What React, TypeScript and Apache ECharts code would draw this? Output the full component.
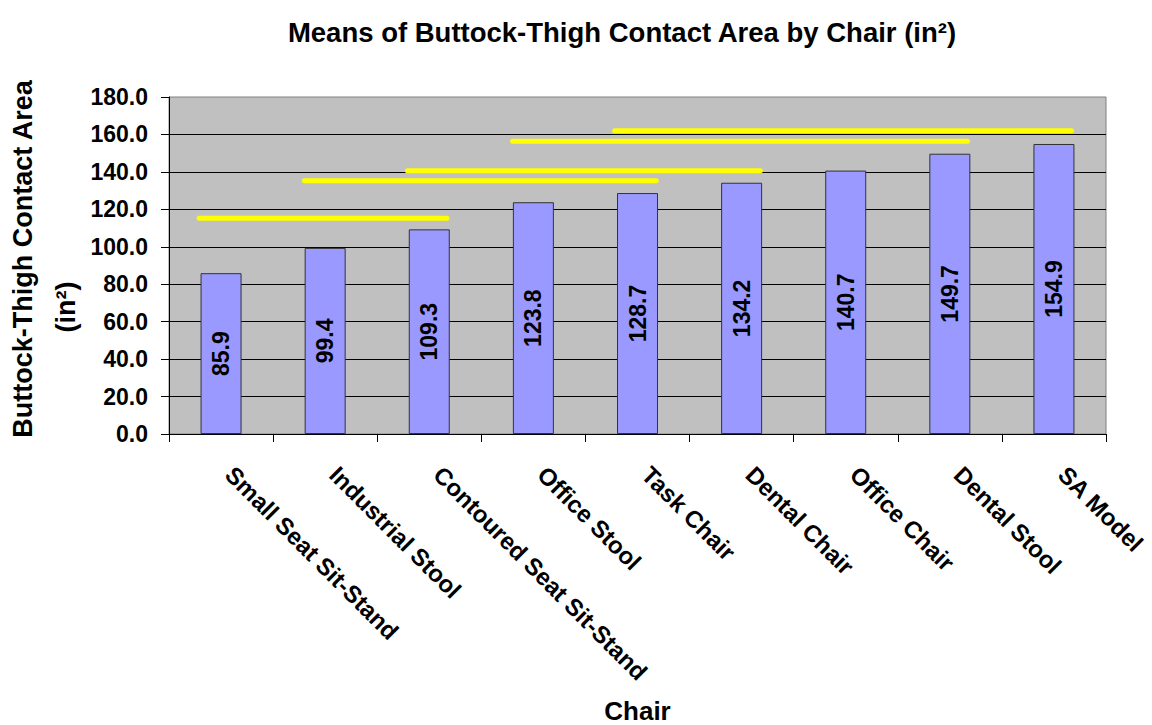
import React, { useEffect, useRef } from "react";
import * as echarts from "echarts";

const categories = [
  "Small Seat Sit-Stand",
  "Industrial Stool",
  "Contoured Seat Sit-Stand",
  "Office Stool",
  "Task Chair",
  "Dental Chair",
  "Office Chair",
  "Dental Stool",
  "SA Model",
];
const means = [85.9, 99.4, 109.3, 123.8, 128.7, 134.2, 140.7, 149.7, 154.9];

// Grouping lines (category-index positions, value level)
const groupStart = [-0.21, 0.8, 1.79, 2.8, 3.78];
const groupEnd = [2.17, 4.18, 5.18, 7.17, 8.17];
const groupLevel = [115.2, 135.3, 140.6, 156.3, 162.0];

const FONT = '"Liberation Sans", Arial, Helvetica, sans-serif';

export default function App() {
  const ref = useRef<HTMLDivElement>(null);

  useEffect(() => {
    if (!ref.current) return;
    const chart = echarts.init(ref.current, undefined, { renderer: "svg" });

    const groupSeries = groupStart.map((s, i) => ({
      type: "line",
      xAxisIndex: 1,
      yAxisIndex: 0,
      symbol: "none",
      silent: true,
      z: 5,
      lineStyle: { color: "#FFFF00", width: 5, cap: "round" },
      data: [
        [s, groupLevel[i]],
        [groupEnd[i], groupLevel[i]],
      ],
    }));

    chart.setOption({
      animation: false,
      backgroundColor: "#FFFFFF",
      textStyle: { fontFamily: FONT },
      title: {
        text: "Means of Buttock-Thigh Contact Area by Chair (in²)",
        left: 617,
        top: 13,
        textAlign: "center",
        textStyle: { fontFamily: FONT, fontSize: 27.5, fontWeight: "bold", color: "#000" },
      },
      grid: {
        left: 169,
        top: 97,
        width: 937,
        height: 337,
        show: true,
        backgroundColor: "#C0C0C0",
        borderColor: "#808080",
        borderWidth: 1,
      },
      xAxis: [
        {
          type: "category",
          data: categories,
          boundaryGap: true,
          axisLine: { onZero: false, lineStyle: { color: "#000", width: 1 } },
          axisTick: { show: true, length: 8, lineStyle: { color: "#000" } },
          axisLabel: {
            interval: 0,
            rotate: -45,
            margin: 45,
            verticalAlign: "bottom",
            fontFamily: FONT,
            fontSize: 24,
            fontWeight: "bold",
            color: "#000",
          },
          name: "Chair",
          nameLocation: "middle",
          nameGap: 264,
          nameTextStyle: { fontFamily: FONT, fontSize: 26, fontWeight: "bold", color: "#000" },
          splitLine: { show: false },
        },
        {
          type: "value",
          min: -0.5,
          max: 8.5,
          show: false,
          gridIndex: 0,
        },
      ],
      yAxis: {
        type: "value",
        min: 0,
        max: 180,
        interval: 20,
        axisLine: { show: true, onZero: false, lineStyle: { color: "#000", width: 1 } },
        axisTick: { show: true, length: 8, lineStyle: { color: "#000" } },
        axisLabel: {
          margin: 21,
          fontFamily: FONT,
          fontSize: 23,
          fontWeight: "bold",
          color: "#000",
          formatter: (v: number) => v.toFixed(1),
        },
        splitLine: { show: true, showMaxLine: false, lineStyle: { color: "#000", width: 1 } },
      },
      graphic: [
        {
          type: "text",
          x: 23,
          y: 259,
          rotation: Math.PI / 2,
          style: {
            text: "Buttock-Thigh Contact Area",
            font: `bold 27px ${FONT}`,
            fill: "#000",
            align: "center",
            verticalAlign: "middle",
            textAlign: "center",
            textVerticalAlign: "middle",
          },
        },
        {
          type: "text",
          x: 66,
          y: 307,
          rotation: Math.PI / 2,
          style: {
            text: "(in²)",
            font: `bold 27px ${FONT}`,
            fill: "#000",
            align: "center",
            verticalAlign: "middle",
            textAlign: "center",
            textVerticalAlign: "middle",
          },
        },
      ],
      series: [
        {
          type: "bar",
          name: "Mean contact area",
          xAxisIndex: 0,
          yAxisIndex: 0,
          data: means,
          barWidth: 41,
          itemStyle: { color: "#9999FF", borderColor: "#333333", borderWidth: 1 },
          label: {
            show: true,
            position: "inside",
            rotate: 90,
            fontFamily: FONT,
            fontSize: 23,
            fontWeight: "bold",
            color: "#000",
            formatter: (p: any) => Number(p.value).toFixed(1),
          },
          z: 2,
        },
        ...groupSeries,
      ],
    });

    return () => chart.dispose();
  }, []);

  return (
    <div
      ref={ref}
      style={{ position: "fixed", left: 0, top: 0, width: 1152, height: 725 }}
    />
  );
}
